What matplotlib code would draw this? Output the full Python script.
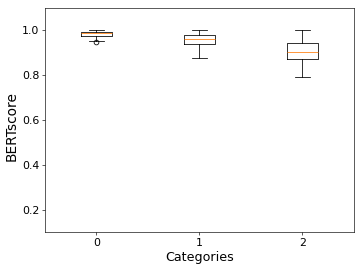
import matplotlib
matplotlib.use("Agg")
import matplotlib.pyplot as plt

# Box statistics
categories = [0, 1, 2]
whislo = [0.950, 0.877, 0.791]
q1 = [0.973, 0.936, 0.870]
med = [0.985, 0.961, 0.901]
q3 = [0.990, 0.976, 0.941]
whishi = [1.000, 1.000, 0.999]
fliers = [[0.945], [], []]

stats = []
for i in range(len(categories)):
    stats.append({
        'label': str(categories[i]),
        'whislo': whislo[i],
        'q1': q1[i],
        'med': med[i],
        'q3': q3[i],
        'whishi': whishi[i],
        'fliers': fliers[i],
    })

fig, ax = plt.subplots(figsize=(6.4, 4.8), dpi=363 / 6.4)
fig.subplots_adjust(left=0.124, right=0.975, top=0.971, bottom=0.147)

ax.bxp(stats, positions=categories, widths=0.3)
ax.set_ylim(0.1, 1.1)
ax.set_xlabel('Categories', fontsize=16)
ax.set_ylabel('BERTscore', fontsize=17.5)
ax.yaxis.label.set_y(0.475)
ax.tick_params(labelsize=14)

plt.savefig('out.png', dpi=363 / 6.4)
